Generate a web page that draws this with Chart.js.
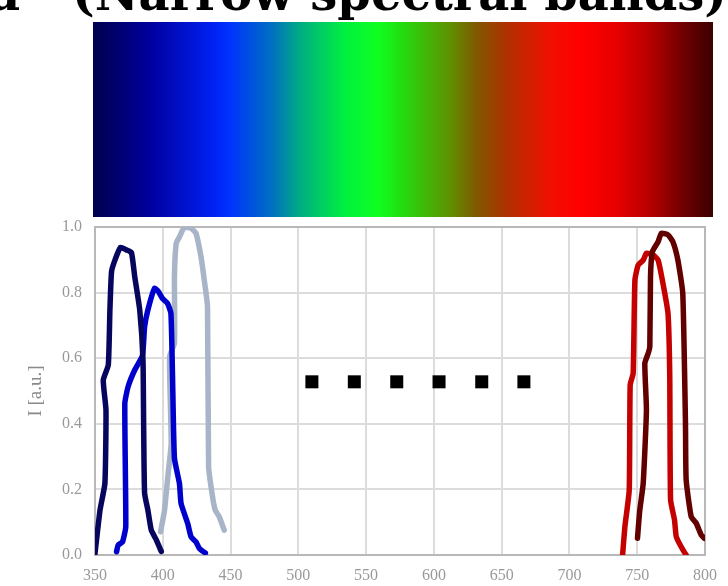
<!DOCTYPE html>
<html>
<head>
<meta charset="utf-8">
<script src="https://cdn.jsdelivr.net/npm/chart.js@4.4.1/dist/chart.umd.min.js"></script>
<style>
  html, body { margin: 0; padding: 0; background: #fff; }
  #wrap { position: relative; width: 728px; height: 586px; overflow: hidden; }
  #title { position: absolute; left: 0; top: -31px; width: 780px; height: 60px; font-family: "DejaVu Serif", serif; font-weight: bold; font-size: 48px; line-height: 48px; color: #000; white-space: nowrap; z-index: 2; }
  #title span { position: absolute; top: 0; }
  canvas { position: absolute; left: 0; top: 0; }
</style>
</head>
<body>
<div id="wrap">
  <div id="title"><span style="left:-11px">a</span><span style="left:72px">(Narrow spectral bands)</span></div>
  <canvas id="c" width="728" height="586"></canvas>
</div>
<script>
// ---- data ----
const xTicks = [350, 400, 450, 500, 550, 600, 650, 700, 750, 800];
const yTicks = [0.0, 0.2, 0.4, 0.6, 0.8, 1.0];

const navyX = [350, 353.7, 357.3, 358.1, 356.1, 359.8, 361, 362.2, 364.7, 368.8, 373.2, 376.9, 379.3, 383, 385.4, 385.9, 386.6, 389, 391.5, 395.2, 398.9];
const navyY = [0.005, 0.137, 0.218, 0.442, 0.533, 0.579, 0.747, 0.864, 0.899, 0.938, 0.930, 0.922, 0.849, 0.747, 0.594, 0.391, 0.188, 0.137, 0.076, 0.046, 0.011];

const blueX = [365.9, 367.1, 370.3, 372.7, 372, 374.4, 379.3, 385, 386.6, 389, 393.9, 396.8, 399.8, 403.5, 406, 407.2, 408.6, 412.3, 413.5, 418.4, 420.9, 424.5, 427, 431.4];
const blueY = [0.010, 0.030, 0.040, 0.086, 0.462, 0.513, 0.564, 0.608, 0.696, 0.747, 0.813, 0.803, 0.782, 0.767, 0.737, 0.544, 0.295, 0.218, 0.157, 0.096, 0.055, 0.040, 0.020, 0.006];

const greyX = [398.4, 401.3, 403.7, 406.2, 405, 408.6, 408.6, 409.9, 412.3, 416, 420.9, 424.5, 428.2, 430.6, 433, 433.8, 436.7, 438.7, 441.6, 445.3];
const greyY = [0.071, 0.137, 0.238, 0.340, 0.605, 0.645, 0.849, 0.950, 0.970, 1.000, 0.996, 0.981, 0.909, 0.838, 0.757, 0.269, 0.178, 0.137, 0.117, 0.076];

const redX = [739.2, 740.9, 744.1, 744.8, 747, 748.3, 750.7, 754.4, 756.8, 761.7, 765.4, 769, 772.7, 774, 774.6, 777.5, 778.8, 782.4, 786.1];
const redY = [0.0, 0.086, 0.198, 0.518, 0.554, 0.838, 0.884, 0.899, 0.920, 0.915, 0.899, 0.828, 0.737, 0.544, 0.168, 0.107, 0.056, 0.025, 0.0];

const darkRedX = [750.2, 751.9, 754.4, 756.8, 755.6, 758.1, 759.3, 759.8, 761.2, 765.4, 767.8, 772.7, 776.3, 780, 783.6, 785.6, 786.1, 789.8, 793.5, 797.2, 799.6];
const darkRedY = [0.051, 0.137, 0.218, 0.442, 0.584, 0.615, 0.635, 0.849, 0.925, 0.955, 0.981, 0.976, 0.955, 0.899, 0.798, 0.401, 0.229, 0.117, 0.097, 0.061, 0.051];

const dotsX = [510, 541.3, 572.6, 603.8, 635.3, 666.4];
const dotsY = [0.528, 0.528, 0.528, 0.528, 0.528, 0.528];

// ---- helpers ----
const pts = (xs, ys) => xs.map((x, i) => ({ x: x, y: ys[i] }));
const curve = (xs, ys, color) => ({
  data: pts(xs, ys), showLine: true, borderColor: color, backgroundColor: color,
  borderWidth: 5.5, pointRadius: 0, tension: 0.15,
  borderJoinStyle: 'round', borderCapStyle: 'round'
});

const spectrumPlugin = {
  id: 'spectrum',
  beforeDraw(chart) {
    const ctx = chart.ctx;
    const x0 = 93, x1 = 713, y0 = 22, y1 = 217;
    const g = ctx.createLinearGradient(x0, 0, x1, 0);
    const stops = [
      [0.003, '#000050'], [0.095, '#0000a0'], [0.19, '#0020f0'], [0.218, '#0030ff'],
      [0.289, '#0070c0'], [0.337, '#00b080'], [0.406, '#00f040'], [0.46, '#10ff20'],
      [0.495, '#20e010'], [0.576, '#609000'], [0.619, '#805800'], [0.668, '#b03000'],
      [0.737, '#f01000'], [0.785, '#ff0000'], [0.845, '#e80000'], [0.903, '#b00000'],
      [0.952, '#700000'], [0.995, '#400000']
    ];
    stops.forEach(s => g.addColorStop(s[0], s[1]));
    ctx.save();
    ctx.fillStyle = g;
    ctx.fillRect(x0, y0, x1 - x0, y1 - y0);
    ctx.restore();
  },
  beforeDatasetsDraw(chart) {
    const a = chart.chartArea, ctx = chart.ctx;
    ctx.save();
    ctx.strokeStyle = '#b8b8b8';
    ctx.lineWidth = 2;
    ctx.strokeRect(a.left, a.top, a.right - a.left, a.bottom - a.top);
    ctx.restore();
  }
};

const tickFont = { family: '"Liberation Serif", serif', size: 16 };

new Chart(document.getElementById('c'), {
  type: 'scatter',
  data: {
    datasets: [
      { data: pts(dotsX, dotsY), showLine: false, pointStyle: 'rect', pointRadius: 9.2, pointBorderWidth: 0, backgroundColor: '#000', borderColor: '#000' },
      curve(navyX, navyY, '#06065e'),
      curve(blueX, blueY, '#0000cd'),
      curve(greyX, greyY, '#a8b4c8'),
      curve(darkRedX, darkRedY, '#620000'),
      curve(redX, redY, '#c40000')
    ]
  },
  plugins: [spectrumPlugin],
  options: {
    responsive: false,
    animation: false,
    layout: { padding: { left: 0, right: 18, top: 227, bottom: 0 } },
    plugins: { legend: { display: false }, tooltip: { enabled: false }, title: { display: false } },
    scales: {
      x: {
        type: 'linear', min: 350, max: 800,
        afterFit(s) { s.height = 31; },
        afterBuildTicks(s) { s.ticks = xTicks.map(v => ({ value: v })); },
        grid: { color: '#dcdcdc', lineWidth: 2, drawTicks: false },
        border: { display: false },
        ticks: { color: '#999', font: tickFont, padding: 11, maxRotation: 0, callback: v => String(v) }
      },
      y: {
        type: 'linear', min: 0, max: 1,
        afterFit(s) { s.width = 95; },
        afterBuildTicks(s) { s.ticks = yTicks.map(v => ({ value: v })); },
        grid: { color: '#dcdcdc', lineWidth: 2, drawTicks: false },
        border: { display: false },
        ticks: { color: '#999', font: tickFont, padding: 13, callback: v => Number(v).toFixed(1) },
        title: { display: true, text: 'I [a.u.]', color: '#8a8a8a', font: { family: '"Liberation Serif", serif', size: 19 }, padding: { top: 25, bottom: 0 } }
      }
    }
  }
});
</script>
</body>
</html>
